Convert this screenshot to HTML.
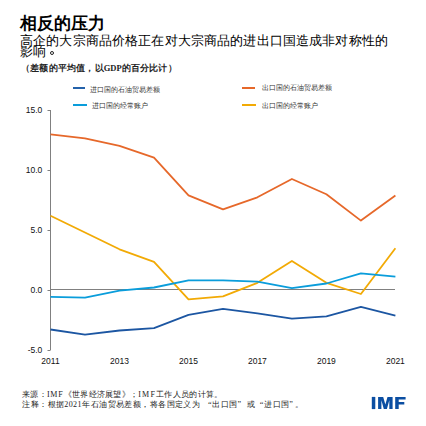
<!DOCTYPE html>
<html><head><meta charset="utf-8">
<style>
html,body{margin:0;padding:0;background:#fff;}
body{width:426px;height:426px;position:relative;overflow:hidden;font-family:"Liberation Sans",sans-serif;color:#000;}
.a{position:absolute;white-space:nowrap;}
i{font-style:normal;display:inline-block;text-align:center;letter-spacing:0;font-family:"Liberation Sans",sans-serif;}
#title{left:20px;top:13.3px;font-size:16.5px;font-weight:bold;line-height:20px;}
#title i{width:17px}
#sub{left:20px;top:36.3px;font-size:12.6px;line-height:10.6px;font-weight:300;}
#sub i{width:13.15px}
#note{left:21px;top:63px;font-size:8.5px;line-height:10px;color:#222;font-weight:bold;}
#note i{width:9.2px}
.lg{font-size:7px;line-height:8px;color:#333;}
.lg i{width:7px}
.ln{position:absolute;height:2px;}
.yl{font-size:8.5px;line-height:9px;color:#111;text-align:right;width:30px;}
.xl{font-size:8.5px;line-height:9px;color:#111;text-align:center;width:30px;}
.foot{font-size:8px;line-height:10.5px;color:#222;font-family:"Liberation Serif",serif;}
.f1 i{width:8.3px}
.f2 i{width:8.45px}
.ql{display:inline-block;width:9px;text-align:right;}
.qr{display:inline-block;width:9px;text-align:left;}
.nocjk i{position:relative;color:transparent}
.nocjk i::after{content:"";position:absolute}
.nocjk i.p::after{display:none}
.nocjk #title i::after{left:.7px;top:2px;width:15.6px;height:16px;background:rgba(0,0,0,.48)}
.nocjk #sub i::after{left:.3px;top:-1px;width:12.5px;height:12px;background:rgba(0,0,0,.30)}
.nocjk #note i::after{left:.35px;top:1px;width:8.3px;height:8px;background:rgba(0,0,0,.45)}
.nocjk .lg i::after{left:.25px;top:0;width:6.5px;height:7px;background:rgba(0,0,0,.24)}
.nocjk .f1 i::after{left:.25px;top:0;width:7.8px;height:7.5px;background:rgba(0,0,0,.27)}
.nocjk .f2 i::after{left:.3px;top:.5px;width:7.8px;height:8px;background:rgba(0,0,0,.25)}
</style></head><body>
<div class="a" id="title"><i>相</i><i>反</i><i>的</i><i>压</i><i>力</i></div>
<div class="a" id="sub"><i>高</i><i>企</i><i>的</i><i>大</i><i>宗</i><i>商</i><i>品</i><i>价</i><i>格</i><i>正</i><i>在</i><i>对</i><i>大</i><i>宗</i><i>商</i><i>品</i><i>的</i><i>进</i><i>出</i><i>口</i><i>国</i><i>造</i><i>成</i><i>非</i><i>对</i><i>称</i><i>性</i><i>的</i><br><i>影</i><i>响</i></div>
<div class="a" style="left:50.3px;top:51px;width:2.2px;height:2.2px;border:1px solid #222;border-radius:50%"></div>
<div class="a" id="note"><i class="p">（</i><i>差</i><i>额</i><i>的</i><i>平</i><i>均</i><i>值</i><i class="p">，</i><i>以</i><span style="font-family:'Liberation Serif',serif">GDP</span><i>的</i><i>百</i><i>分</i><i>比</i><i>计</i><i class="p">）</i></div>

<div class="ln" style="left:73px;top:87px;width:12px;background:#2462aa"></div>
<div class="a lg" style="left:90px;top:86px"><i>进</i><i>口</i><i>国</i><i>的</i><i>石</i><i>油</i><i>贸</i><i>易</i><i>差</i><i>额</i></div>
<div class="ln" style="left:73px;top:103.6px;width:14px;background:#0a9ddb"></div>
<div class="a lg" style="left:92px;top:101.6px"><i>进</i><i>口</i><i>国</i><i>的</i><i>经</i><i>常</i><i>账</i><i>户</i></div>
<div class="ln" style="left:242px;top:87px;width:13px;background:#e6682a"></div>
<div class="a lg" style="left:261.5px;top:84px"><i>出</i><i>口</i><i>国</i><i>的</i><i>石</i><i>油</i><i>贸</i><i>易</i><i>差</i><i>额</i></div>
<div class="ln" style="left:242px;top:103.6px;width:13.5px;background:#f2aa05"></div>
<div class="a lg" style="left:261.5px;top:101.5px"><i>出</i><i>口</i><i>国</i><i>的</i><i>经</i><i>常</i><i>账</i><i>户</i></div>

<svg class="a" style="left:0;top:0" width="426" height="426" viewBox="0 0 426 426">
<g stroke="#808080" stroke-width="1" fill="none">
<path d="M50.5 110V350"/>
<path d="M47.5 110.5H50.5M47.5 170.5H50.5M47.5 230.5H50.5M47.5 290.5H50.5M47.5 350.5H50.5"/>
<path d="M50.5 289.5H395"/>
</g>
<g fill="none" stroke-width="1.8" stroke-linejoin="round">
<polyline stroke="#e6682a" points="50.5,134.4 85,138.3 119.5,145.9 154,157.6 188.5,195.4 223,209.4 257.4,197.3 291.9,179 326.4,194.2 360.9,220.6 395.4,195.6"/>
<polyline stroke="#f2aa05" points="50.5,215.8 85,232.5 119.5,249.3 154,261.9 188.5,299.3 223,296.4 257.4,282.8 291.9,261 326.4,282.8 360.9,294 395.4,248.3"/>
<polyline stroke="#0a9ddb" points="50.5,296.9 85,297.6 119.5,290.7 154,287.5 188.5,280.3 223,280.3 257.4,281.7 291.9,288.1 326.4,283.5 360.9,273.3 395.4,276.6"/>
<polyline stroke="#1c56a2" points="50.5,329.5 85,334.7 119.5,330.5 154,328.1 188.5,314.8 223,308.9 257.4,313.3 291.9,318.7 326.4,316.3 360.9,306.8 395.4,315.6"/>
</g>
</svg>

<div class="a yl" style="left:12.3px;top:105.7px">15.0</div>
<div class="a yl" style="left:12.3px;top:165.7px">10.0</div>
<div class="a yl" style="left:12.3px;top:225.7px">5.0</div>
<div class="a yl" style="left:12.3px;top:285.7px">0.0</div>
<div class="a yl" style="left:12.3px;top:345.7px">-5.0</div>

<div class="a xl" style="left:35.5px;top:357.2px">2011</div>
<div class="a xl" style="left:104.5px;top:357.2px">2013</div>
<div class="a xl" style="left:173.5px;top:357.2px">2015</div>
<div class="a xl" style="left:242.4px;top:357.2px">2017</div>
<div class="a xl" style="left:311.4px;top:357.2px">2019</div>
<div class="a xl" style="left:380.4px;top:357.2px">2021</div>

<div class="a foot f1" style="left:22px;top:389.7px;letter-spacing:0.3px"><i>来</i><i>源</i><i class="p">：</i><span style="letter-spacing:0.8px">IMF</span><i class="p">《</i><i>世</i><i>界</i><i>经</i><i>济</i><i>展</i><i>望</i><i class="p">》</i><i class="p">；</i><span style="letter-spacing:1.2px">IMF</span><i>工</i><i>作</i><i>人</i><i>员</i><i>的</i><i>计</i><i>算</i><i class="p">。</i></div>
<div class="a foot f2" style="left:22px;top:399.5px;letter-spacing:0.45px"><i>注</i><i>释</i><i class="p">：</i><i>根</i><i>据</i>2021<i>年</i><i>石</i><i>油</i><i>贸</i><i>易</i><i>差</i><i>额</i><i class="p">，</i><i>将</i><i>各</i><i>国</i><i>定</i><i>义</i><i>为</i><span class="ql" style="width:12px">“</span><i>出</i><i>口</i><i>国</i><span class="qr">”</span><i>或</i><span class="ql">“</span><i>进</i><i>口</i><i>国</i><span class="qr" style="width:6px">”</span><i class="p">。</i></div>
<svg class="a" style="left:0;top:0" width="426" height="426" viewBox="0 0 426 426"><g fill="#0b4ea2">
<path d="M371.8 396.9H375.3V409.1H371.8Z"/>
<path d="M378.1 409.1V396.9H383.2L385.35 404.6L387.5 396.9H392.6V409.1H389.3V400.2L386.9 409.1H383.8L381.4 400.2V409.1Z"/>
<path d="M395.2 396.9H405.6V399.6H398.7V401.9H404.3V404.6H398.7V409.1H395.2Z"/>
</g></svg>
<script>
(function(){var s=document.createElement('span');s.style.cssText='position:absolute;visibility:hidden;font:100px "Liberation Sans",sans-serif';s.textContent='\u9ad8';document.body.appendChild(s);if(s.getBoundingClientRect().width<95)document.documentElement.className='nocjk';document.body.removeChild(s);})();
</script>
</body></html>
